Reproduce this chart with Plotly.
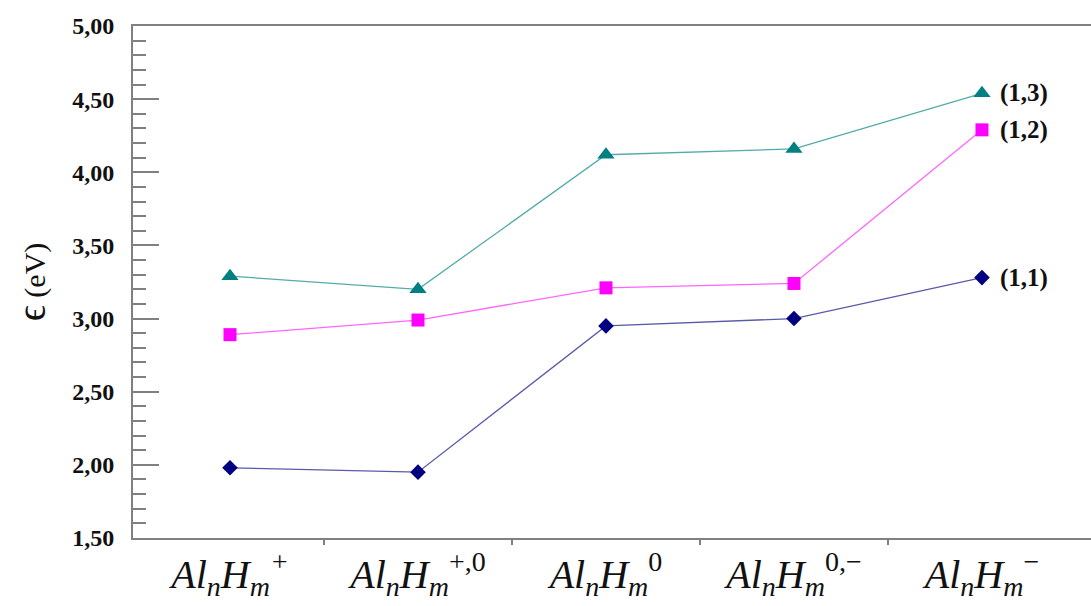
import plotly.graph_objects as go

categories = [
    "<i>Al<sub>n</sub>H<sub>m</sub><sup>+</sup></i>",
    "<i>Al<sub>n</sub>H<sub>m</sub></i><sup>+,0</sup>",
    "<i>Al<sub>n</sub>H<sub>m</sub></i><sup>0</sup>",
    "<i>Al<sub>n</sub>H<sub>m</sub></i><sup>0,\u2212</sup>",
    "<i>Al<sub>n</sub>H<sub>m</sub></i><sup>\u2212</sup>",
]
series_names = ["(1,1)", "(1,2)", "(1,3)"]
s11 = [1.98, 1.95, 2.95, 3.00, 3.28]
s12 = [2.89, 2.99, 3.21, 3.24, 4.29]
s13 = [3.29, 3.20, 4.12, 4.16, 4.54]

styles = [
    dict(values=s11, color="#000080", line="#5a5aaa", symbol="diamond", size=12),
    dict(values=s12, color="#ff00ff", line="#ff66ff", symbol="square", size=13),
    dict(values=s13, color="#008080", line="#55aaaa", symbol="triangle-up", size=15),
]

xs = list(range(len(categories)))
fig = go.Figure()
for name, st in zip(series_names, styles):
    fig.add_trace(go.Scatter(
        x=xs, y=st["values"], mode="lines+markers", name=name,
        line=dict(color=st["line"], width=1.3),
        marker=dict(symbol=st["symbol"], size=st["size"], color=st["color"]),
        showlegend=False,
    ))
    fig.add_annotation(
        x=xs[-1], y=st["values"][-1], text="<b>" + name + "</b>",
        xanchor="left", yanchor="middle", xshift=16, showarrow=False,
        font=dict(family="Liberation Serif", size=25, color="#111111"),
    )

axis_gray = "#808080"
fig.update_layout(
    width=1091, height=606,
    margin=dict(l=133, r=0, t=26, b=68),
    paper_bgcolor="white", plot_bgcolor="white",
    separators=",.",
    xaxis=dict(
        range=[-0.516, 4.58],
        tickmode="array", tickvals=xs, ticktext=categories,
        ticks="", showgrid=False, zeroline=False,
        showline=True, linecolor=axis_gray, linewidth=2, mirror=True,
        tickfont=dict(family="Liberation Serif", size=40, color="#111111"),
        minor=dict(tickmode="array", tickvals=[0.5, 1.5, 2.5, 3.5],
                   ticks="outside", ticklen=5, tickcolor=axis_gray, tickwidth=1.5,
                   showgrid=False),
    ),
    yaxis=dict(
        range=[1.5, 5.0], dtick=0.5, tick0=1.5, tickformat=".2f",
        ticks="inside", ticklen=26, tickcolor=axis_gray, tickwidth=2,
        showline=True, linecolor=axis_gray, linewidth=2,
        showgrid=False, zeroline=False,
        ticklabelstandoff=12,
        tickfont=dict(family="Liberation Serif", size=24, color="#111111", weight="bold"),
        minor=dict(dtick=0.1, ticks="inside", ticklen=13, tickcolor=axis_gray, tickwidth=2,
                   showgrid=False),
        title=dict(text="<span style='font-size:40px'>\u03f5</span> (eV)", standoff=18,
                   font=dict(family="Liberation Serif", size=30, color="#111111")),
    ),
    yaxis2=dict(
        overlaying="y", side="right", anchor="x",
        range=[1.5, 5.0], dtick=0.5, tick0=1.5,
        ticks="inside", ticklen=16, tickcolor=axis_gray, tickwidth=2,
        showline=False, showgrid=False, zeroline=False, showticklabels=False,
        minor=dict(dtick=0.1, ticks="inside", ticklen=3, tickcolor=axis_gray, tickwidth=2,
                   showgrid=False),
    ),
)

fig.write_html("out.html")
